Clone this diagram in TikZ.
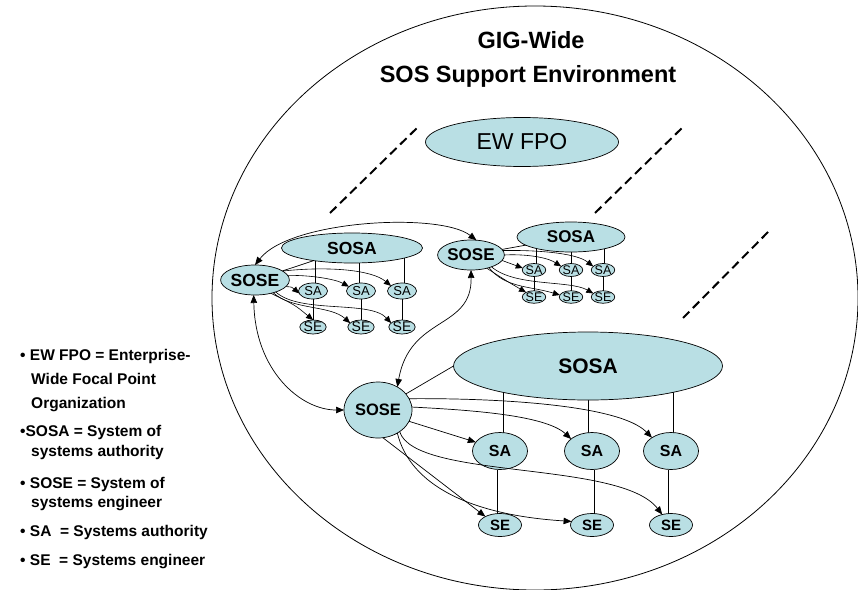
\documentclass[tikz,border=0pt]{standalone}
\usepackage{fontspec}
\setmainfont{Liberation Sans}
\usetikzlibrary{shapes.geometric,arrows.meta,backgrounds,calc}
\definecolor{nodefill}{RGB}{185,223,228}
\begin{document}
\begin{tikzpicture}[x=1pt,y=-1pt,
  nd/.style={ellipse,draw=black,line width=0.7pt,fill=nodefill,inner sep=0pt,outer sep=0pt},
  link/.style={line width=0.7pt},
  arr/.style={line width=0.7pt,-{Triangle[length=8pt,width=6.5pt]}},
  sarr/.style={line width=0.6pt,-{Triangle[length=7pt,width=6pt]}},
  darr/.style={line width=0.7pt,{Triangle[length=8pt,width=6.5pt]}-{Triangle[length=8pt,width=6.5pt]}},
  dashline/.style={line width=2pt,dash pattern=on 9pt off 5pt},
  lg/.style={anchor=base west,inner sep=0pt,font=\bfseries\fontsize{15.5}{18}\selectfont},
  ttl/.style={anchor=base,inner sep=0pt,font=\bfseries\fontsize{23.5}{28}\selectfont}
]
\useasboundingbox (0,0) rectangle (858,589);

% outer environment boundary
\draw[line width=0.8pt] (535,298) ellipse [x radius=323, y radius=292];

% title
\node[ttl] (t1) at (531,48) {GIG-Wide};
\node[ttl] (t2) at (528,82) {SOS Support Environment};

% EW FPO
\node[nd,minimum width=193pt,minimum height=49pt] (ew) at (522,142) {\fontsize{23}{23}\selectfont EW FPO};

% dashed separators
\draw[dashline] (330,213) -- (418,127);
\draw[dashline] (595,213) -- (683,127);
\draw[dashline] (683,318) -- (770,230);

% ---------- left cluster ----------
\node[nd,minimum width=55pt,minimum height=30pt,font=\bfseries\fontsize{17.5}{17.5}\selectfont] (sose1) at (255,280) {SOSE};
\node[nd,minimum width=141pt,minimum height=30pt,font=\bfseries\fontsize{17.5}{17.5}\selectfont] (sosa1) at (352,248) {SOSA};
\foreach \n/\x in {a/313,b/361,c/402}{
  \node[nd,minimum width=29pt,minimum height=16pt,font=\fontsize{13}{13}\selectfont] (sa1\n) at (\x,291) {SA};
  \node[nd,minimum width=23pt,minimum height=12pt,font=\fontsize{14}{14}\selectfont] (se1\n) at (\x,327) {SE};
}

% ---------- top-right cluster ----------
\node[nd,minimum width=56pt,minimum height=30pt,font=\bfseries\fontsize{17}{17}\selectfont] (sose2) at (471,255) {SOSE};
\node[nd,minimum width=108pt,minimum height=30pt,font=\bfseries\fontsize{17}{17}\selectfont] (sosa2) at (571,237) {SOSA};
\foreach \n/\x in {a/534,b/571,c/603}{
  \node[nd,minimum width=22pt,minimum height=13pt,font=\fontsize{12.5}{12.5}\selectfont] (sa2\n) at (\x,270) {SA};
  \node[nd,minimum width=18pt,minimum height=10pt,font=\fontsize{12.5}{12.5}\selectfont] (se2\n) at (\x,297) {SE};
}

% ---------- bottom cluster ----------
\node[nd,minimum width=68pt,minimum height=56pt,font=\bfseries\fontsize{16.5}{16.5}\selectfont] (sose3) at (378,410) {SOSE};
\node[nd,minimum width=269pt,minimum height=68pt,font=\bfseries\fontsize{21}{21}\selectfont] (sosa3) at (588,366) {SOSA};
\foreach \n/\x in {a/500,b/592,c/671}{
  \node[nd,minimum width=55pt,minimum height=37pt,font=\bfseries\fontsize{16}{16}\selectfont] (sa3\n) at (\x,451) {SA};
  \node[nd,minimum width=43pt,minimum height=23pt,font=\bfseries\fontsize{15}{15}\selectfont] (se3\n) at (\x,525) {SE};
}

% ---------- connectors ----------
\begin{pgfonlayer}{background}
  \foreach \n/\d in {a/2,b/-2,c/2}{
    \draw[link] ([xshift=\d pt]sa1\n.north) -- ([xshift=\d pt]sa1\n.north |- sosa1.center);
  }
  \foreach \n/\d in {a/2,b/0,c/1}{
    \draw[link] ([xshift=\d pt]sa2\n.north) -- ([xshift=\d pt]sa2\n.north |- sosa2.center);
  }
  \foreach \n/\d in {a/3,b/-4,c/2}{
    \draw[link] ([xshift=\d pt]sa3\n.north) -- ([xshift=\d pt]sa3\n.north |- sosa3.center);
  }
\end{pgfonlayer}
\foreach \n in {a,b,c}{
  \draw[link] (sa1\n) -- (se1\n);
  \draw[link] (sa2\n) -- (se2\n);
}
\foreach \n/\d in {a/-3,b/2,c/-3}{
  \draw[link] ([xshift=\d pt]sa3\n.south) -- ([xshift=\d pt]se3\n.north);
}
\draw[link] (sose1) -- (sosa1);
\draw[link] (sose2) -- (sosa2);
\draw[link] (sose3.30) -- (sosa3.west);

% left cluster arrows
\draw[sarr] (sose1.-12) .. controls (292,287) .. (sa1a.190);
\draw[sarr] (sose1.8) .. controls (310,275) and (335,279) .. (sa1b.160);
\draw[sarr] (sose1.18) .. controls (330,266) and (372,270) .. (sa1c.155);
\draw[sarr] (sose1.-40) .. controls (295,305) .. (se1a.north);
\draw[sarr] (sose1.-35) .. controls (292,310) and (330,305) .. (se1b.160);
\draw[sarr] (sose1.-30) .. controls (300,314) and (370,300) .. (se1c.160);

% top-right cluster arrows
\draw[sarr] (sose2.-10) -- (sa2a.170);
\draw[sarr] (sose2.0) .. controls (520,254) and (545,256) .. (sa2b.160);
\draw[sarr] (sose2.8) .. controls (530,250) and (575,252) .. (sa2c.160);
\draw[sarr] (sose2.-40) .. controls (505,280) .. (se2a.150);
\draw[sarr] (sose2.-35) .. controls (505,288) and (530,286) .. (se2b.170);
\draw[sarr] (sose2.-30) .. controls (515,287) and (570,280) .. (se2c.160);

% bottom cluster arrows
\draw[arr] (sose3.-20) -- (sa3a.160);
\draw[arr] (sose3.5) .. controls (470,410) and (545,415) .. (sa3b.150);
\draw[arr] (sose3.20) .. controls (500,398) and (620,405) .. (sa3c.145);
\draw[arr] (sose3.-80) -- (se3a.150);
\draw[arr] (sose3.-50) .. controls (410,485) and (470,515) .. (se3b.170);
\draw[arr] (sose3.-45) .. controls (415,480) and (620,460) .. (se3c.130);

% links between SOSEs
\draw[darr] (sose1.north) .. controls (290,220) and (440,212) .. (sose2.70);
\draw[darr] (sose1.-95) .. controls (255,370) and (300,410) .. (sose3.west);
\draw[darr] (sose2.south) .. controls (472,330) and (410,315) .. (sose3.50);

% ---------- legend ----------
\node[lg] (l1) at (20,360.5) {• EW FPO = Enterprise-};
\node[lg] (l2) at (31,384.5) {Wide Focal Point};
\node[lg] (l3) at (31,408.5) {Organization};
\node[lg] (l4) at (20,436.5) {•SOSA = System of};
\node[lg] (l5) at (31,456) {systems authority};
\node[lg] (l6) at (20,488) {• SOSE = System of};
\node[lg] (l7) at (31,507) {systems engineer};
\node[lg] (l8) at (20,536) {• SA\ \ = Systems authority};
\node[lg] (l9) at (20,565) {• SE\ \ = Systems engineer};
\end{tikzpicture}
\end{document}
